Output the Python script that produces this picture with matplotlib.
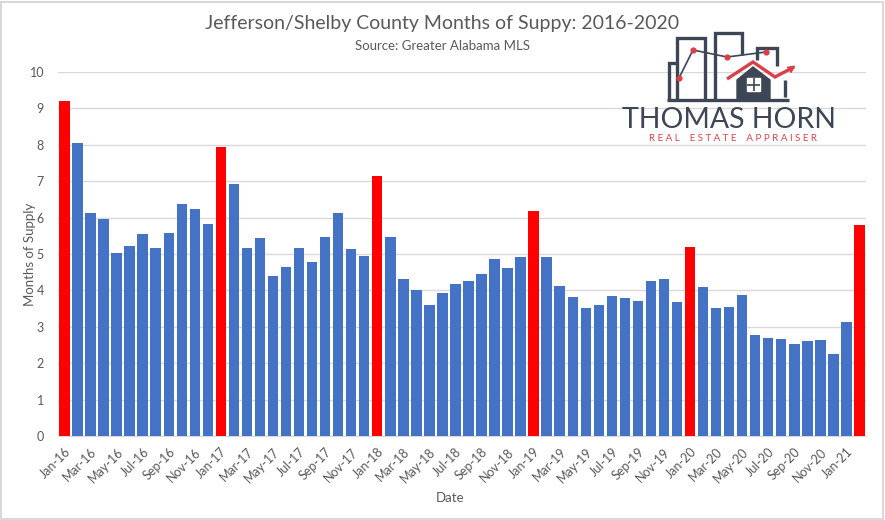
import matplotlib
matplotlib.use("Agg")
import matplotlib.pyplot as plt
from matplotlib.patches import Rectangle, Polygon, FancyArrowPatch
from matplotlib.lines import Line2D

plt.rcParams['font.family'] = ['Lato', 'DejaVu Sans']

# months Jan-16 .. Feb-21
months = ['Jan', 'Feb', 'Mar', 'Apr', 'May', 'Jun', 'Jul', 'Aug', 'Sep', 'Oct', 'Nov', 'Dec']
labels = [m + '-' + str(y) for y in range(16, 22) for m in months][:62]

supply = [9.2, 8.05, 6.12, 5.97, 5.03, 5.22, 5.55, 5.17, 5.58, 6.38, 6.25, 5.83,
          7.95, 6.93, 5.17, 5.44, 4.40, 4.65, 5.17, 4.78, 5.47, 6.13, 5.14, 4.95,
          7.14, 5.47, 4.31, 4.01, 3.60, 3.93, 4.18, 4.26, 4.45, 4.86, 4.61, 4.92,
          6.19, 4.92, 4.12, 3.82, 3.51, 3.60, 3.85, 3.80, 3.71, 4.26, 4.31, 3.68,
          5.20, 4.09, 3.52, 3.55, 3.87, 2.77, 2.69, 2.66, 2.53, 2.61, 2.64, 2.25,
          3.13, 5.80]
highlight = [0, 12, 24, 36, 48, 61]  # bars drawn in red

blue = '#4472C4'
red = '#FF0000'
grey = '#595959'

colors = [red if i in highlight else blue for i in range(len(supply))]

fig = plt.figure(figsize=(8.85, 5.2), dpi=100)
ax = fig.add_axes([0.0655, 0.1615, 0.913, 0.70])

x = list(range(len(supply)))
ax.bar(x, supply, width=0.8, color=colors, zorder=3)

ax.set_ylim(0, 10)
ax.set_xlim(-0.5, len(supply) - 0.5)
ax.set_yticks(range(0, 11))
ax.yaxis.grid(True, color='#d9d9d9', linewidth=1, zorder=0)
ax.set_xticks(x[::2])
ax.set_xticklabels(labels[::2], rotation=45, ha='right', rotation_mode='anchor')
ax.tick_params(axis='x', colors=grey, labelsize=9, length=0, pad=7)
ax.tick_params(axis='y', colors=grey, labelsize=9, length=0, pad=10)
for s in ['top', 'right', 'left']:
    ax.spines[s].set_visible(False)
ax.spines['bottom'].set_color('#d9d9d9')

ax.set_ylabel('Months of Supply', color=grey, fontsize=9.5)
ax.yaxis.set_label_coords(-0.027, 0.5)
ax.set_xlabel('Date', color=grey, fontsize=9.5)
ax.xaxis.set_label_coords(0.485, -0.155)

fig.text(0.5, 0.955, 'Jefferson/Shelby County Months of Suppy: 2016-2020',
         ha='center', va='center', fontsize=14, color=grey)
fig.text(0.5, 0.912, 'Source: Greater Alabama MLS',
         ha='center', va='center', fontsize=9.5, color=grey)

# logo (drawn in pixel positions of the figure)
def px(xp, yp):
    return xp / 885, 1 - yp / 520

dark = '#3c4654'
lred = '#d9414a'
def seg(pts, c=dark, lw=2.4):
    xs = [px(a, b)[0] for a, b in pts]
    ys = [px(a, b)[1] for a, b in pts]
    fig.add_artist(Line2D(xs, ys, color=c, linewidth=lw, solid_capstyle='butt',
                          solid_joinstyle='miter'))

seg([(669, 100), (669, 63), (677, 63)])
seg([(677, 100), (677, 38), (705, 38), (705, 100)])
seg([(715, 100), (715, 33), (742, 33), (742, 55)])
seg([(757, 60), (757, 48), (777, 48), (777, 66)])
seg([(785, 80), (785, 97)])
seg([(667, 100), (789, 100)])
dots = [(679, 78), (693, 50), (727, 57), (766, 52)]
seg(dots, c=dark, lw=1.2)
for a, b in dots:
    fig.add_artist(Line2D([px(a, b)[0]], [px(a, b)[1]], marker='o', markersize=4.5,
                          color=lred, markeredgewidth=0))
house = [px(737, 101), px(737, 80), px(753, 67), px(770, 80), px(770, 101)]
fig.add_artist(Polygon(house, closed=True, color=dark))
fig.add_artist(Rectangle(px(747, 91), 13 / 885, 13 / 520, color='white'))
seg([(753.5, 78), (753.5, 91)], c=dark, lw=1.2)
seg([(747, 84.5), (760, 84.5)], c=dark, lw=1.2)
seg([(727, 79), (753, 62), (775, 77), (794, 67)], c=lred, lw=2.4)
fig.add_artist(FancyArrowPatch(px(789, 70), px(798, 64), arrowstyle='-|>',
                               mutation_scale=11, color=lred,
                               transform=fig.transFigure))
fig.text(px(729, 120)[0], px(729, 120)[1], 'THOMAS HORN', ha='center', va='center',
         fontsize=20.5, color=dark)
fig.text(px(733, 139)[0], px(733, 139)[1], 'R E A L    E S T A T E    A P P R A I S E R',
         ha='center', va='center', fontsize=7, color=lred)

fig.add_artist(Rectangle((0.001, 0.002), 0.997, 0.995, fill=False,
                         edgecolor='#d9d9d9', linewidth=1.5,
                         transform=fig.transFigure))

fig.savefig('out.png', dpi=100)
